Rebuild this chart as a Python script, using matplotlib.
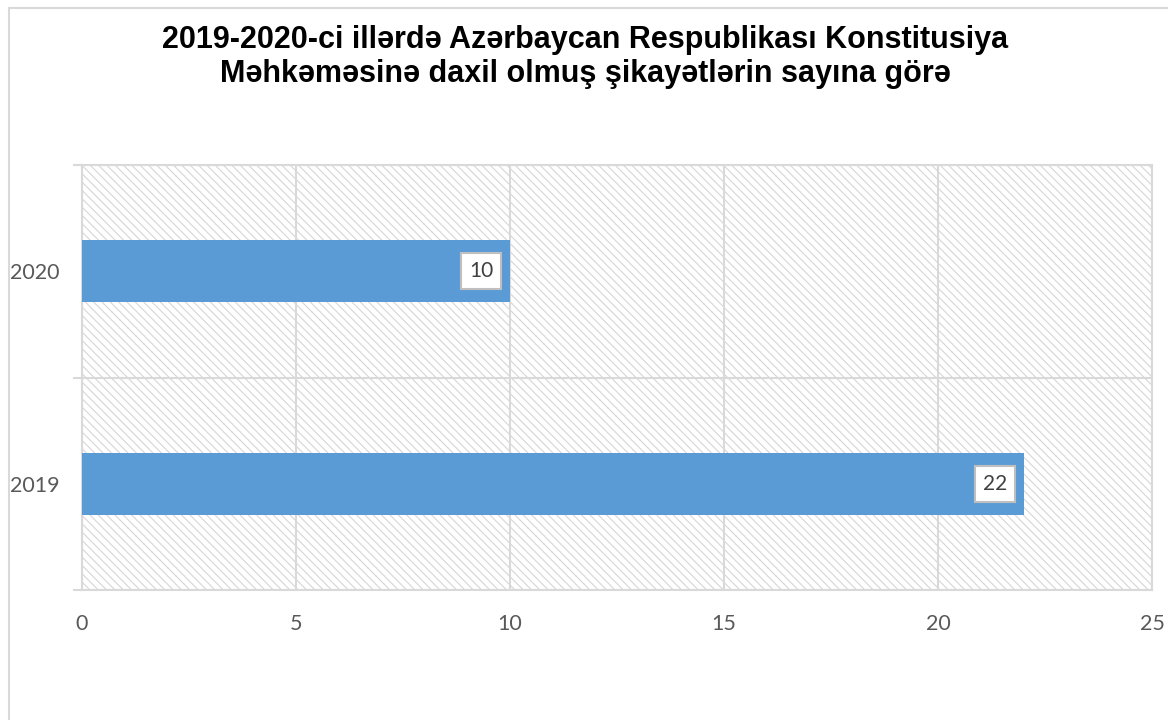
import matplotlib.pyplot as plt
from matplotlib.patches import Rectangle

years = ["2019", "2020"]
complaints = [22, 10]
xticks = [0, 5, 10, 15, 20, 25]
title = "2019-2020-ci illərdə Azərbaycan Respublikası Konstitusiya\nMəhkəməsinə daxil olmuş şikayətlərin sayına görə"

plt.rcParams['font.family'] = ['Liberation Sans', 'DejaVu Sans']
plt.rcParams['hatch.linewidth'] = 0.8

fig = plt.figure(figsize=(11.68, 7.2), dpi=100)
ax = fig.add_axes([82 / 1168, 1 - 590 / 720, (1152 - 82) / 1168, (590 - 165) / 720])

# outer chart border
fig.patches.append(Rectangle((9 / 1168, -0.5), 2, 1.5 - 8 / 720, transform=fig.transFigure,
                             fill=False, edgecolor='#D9D9D9', lw=1.5))

# hatched plot background
ax.add_patch(Rectangle((0, 0), 1, 1, transform=ax.transAxes, facecolor='white',
                       edgecolor='#D6D6D6', hatch='\\' * 4, lw=0, zorder=0))

pos = range(len(years))
ax.barh(pos, complaints, height=0.29, color='#5B9BD5', zorder=3)

for p, v in zip(pos, complaints):
    ax.annotate(str(v), xy=(v, p), xytext=(-12, 0), textcoords='offset points',
                ha='right', va='center', fontsize=15, color='#404040', zorder=5,
                family=['Lato', 'DejaVu Sans'],
                bbox=dict(boxstyle='square,pad=0.38', fc='white', ec='#BFBFBF', lw=1.5))

ax.set_xlim(0, 25)
ax.set_ylim(-0.5, 1.5)
ax.set_xticks(xticks)
ax.set_yticks(list(pos))
ax.set_yticklabels(years)
ax.set_yticks([-0.5, 0.5, 1.5], minor=True)

ax.tick_params(axis='x', length=0, pad=17, labelsize=15.5, labelcolor='#595959')
ax.tick_params(axis='y', which='major', length=0, pad=16, labelsize=15.5, labelcolor='#595959')
ax.tick_params(axis='y', which='minor', length=6.5, width=1.5, color='#D9D9D9')
for lab in ax.get_xticklabels() + ax.get_yticklabels():
    lab.set_family(['Lato', 'DejaVu Sans'])

ax.grid(axis='x', color='#D9D9D9', lw=1.5, zorder=1)
ax.grid(axis='y', which='minor', color='#D9D9D9', lw=1.5, zorder=1)
ax.set_axisbelow(True)
for s in ax.spines.values():
    s.set_color('#D9D9D9')
    s.set_linewidth(1.5)

fig.text(585 / 1168, 1 - 57 / 720, title, ha='center', va='center', fontsize=22,
         fontweight='bold', color='black', linespacing=1.2)

fig.savefig("out.png", dpi=100)
